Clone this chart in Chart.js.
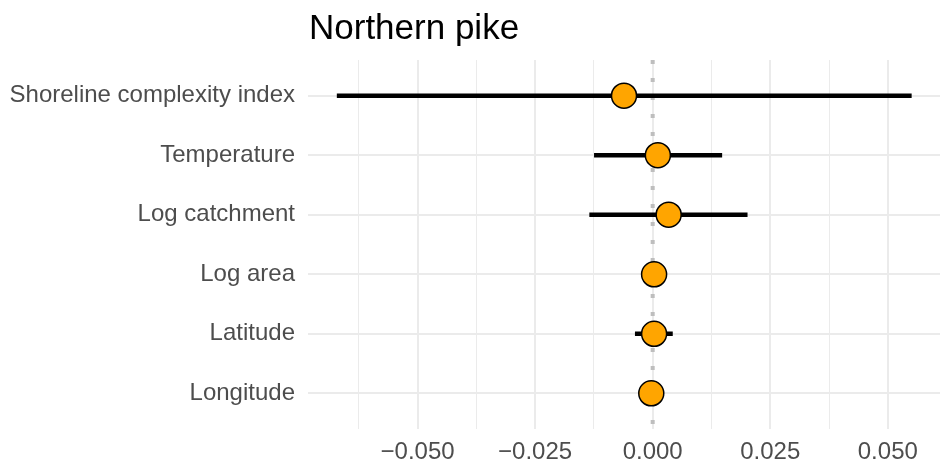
<!DOCTYPE html>
<html>
<head>
<meta charset="utf-8">
<script src="https://cdn.jsdelivr.net/npm/chart.js@4.4.1/dist/chart.umd.min.js"></script>
<style>
  html, body { margin: 0; padding: 0; background: #fff; overflow: hidden; }
  #wrap { width: 945px; height: 465px; position: relative; }
  canvas { display: block; }
</style>
</head>
<body>
<div id="wrap"><canvas id="forestChart"></canvas></div>
<script>
const chartTitle = 'Northern pike';
const predictors = ['Shoreline complexity index', 'Temperature', 'Log catchment', 'Log area', 'Latitude', 'Longitude'];
const estimates = [-0.0061, 0.0011, 0.0034, 0.0003, 0.0003, -0.0003];
const lower = [-0.0671, -0.0124, -0.0134, -0.0012, -0.0037, -0.0014];
const upper = [0.0550, 0.0147, 0.0201, 0.0018, 0.0042, 0.0008];
const majorTicks = [-0.05, -0.025, 0, 0.025, 0.05];
const minorTicks = [-0.0625, -0.0375, -0.0125, 0.0125, 0.0375];
const tickLabels = ['\u22120.050', '\u22120.025', '0.000', '0.025', '0.050'];

const FONT = "'Liberation Sans', Arial, sans-serif";
const GRID = '#ebebeb';

// dotted reference line at zero, under the bars and points
const zeroLine = {
  id: 'zeroLine',
  beforeDatasetsDraw(chart) {
    const { ctx, chartArea, scales: { x } } = chart;
    const px = x.getPixelForValue(0);
    ctx.save();
    ctx.strokeStyle = '#bebebe';
    ctx.lineWidth = 4;
    ctx.setLineDash([4, 14]);
    ctx.beginPath();
    ctx.moveTo(px, chartArea.top);
    ctx.lineTo(px, chartArea.bottom);
    ctx.stroke();
    ctx.restore();
  }
};

// title aligned with the panel's left edge
const panelTitle = {
  id: 'panelTitle',
  afterDraw(chart) {
    const { ctx, chartArea } = chart;
    ctx.save();
    ctx.fillStyle = '#000';
    ctx.font = '35px ' + FONT;
    ctx.textAlign = 'left';
    ctx.textBaseline = 'alphabetic';
    ctx.fillText(chartTitle, chartArea.left + 1, 38.5);
    ctx.restore();
  }
};

const ctx = document.getElementById('forestChart').getContext('2d');

new Chart(ctx, {
  type: 'scatter',
  data: {
    datasets: [
      {
        type: 'bar',
        indexAxis: 'y',
        data: predictors.map((p, i) => ({ x: [lower[i], upper[i]], y: i + 1 })),
        backgroundColor: '#000',
        borderWidth: 0,
        barThickness: 4,
        order: 2
      },
      {
        type: 'scatter',
        data: predictors.map((p, i) => ({ x: estimates[i], y: i + 1 })),
        pointRadius: 12.5,
        pointHoverRadius: 12.5,
        backgroundColor: '#FFA500',
        borderColor: '#000',
        borderWidth: 1.5,
        order: 1
      }
    ]
  },
  options: {
    responsive: true,
    maintainAspectRatio: false,
    animation: false,
    layout: { autoPadding: false, padding: { top: 60, right: 5, left: 0, bottom: 0 } },
    plugins: {
      legend: { display: false },
      tooltip: { enabled: false },
      title: { display: false }
    },
    scales: {
      x: {
        type: 'linear',
        min: -0.0733,
        max: 0.0611,
        afterBuildTicks: (scale) => {
          scale.ticks = majorTicks.concat(minorTicks).sort((a, b) => a - b).map(v => ({ value: v }));
        },
        afterFit: (scale) => {
          scale.height = 36;
          scale.paddingLeft = 0;
          scale.paddingRight = 0;
        },
        border: { display: false },
        grid: {
          drawTicks: false,
          color: GRID,
          lineWidth: (c) => majorTicks.includes(c.tick.value) ? 2 : 1
        },
        ticks: {
          autoSkip: false,
          maxRotation: 0,
          padding: 9,
          color: '#4d4d4d',
          font: { family: FONT, size: 24 },
          callback: (v) => {
            const k = majorTicks.indexOf(v);
            return k >= 0 ? tickLabels[k] : '';
          }
        }
      },
      y: {
        type: 'linear',
        reverse: true,
        offset: false,
        min: 0.4,
        max: predictors.length + 0.6,
        afterBuildTicks: (scale) => {
          scale.ticks = predictors.map((p, i) => ({ value: i + 1 }));
        },
        afterFit: (scale) => {
          scale.width = 308;
          scale.paddingTop = 0;
          scale.paddingBottom = 0;
        },
        border: { display: false },
        grid: { drawTicks: false, offset: false, color: GRID, lineWidth: 2 },
        ticks: {
          autoSkip: false,
          padding: 13,
          color: '#4d4d4d',
          font: { family: FONT, size: 24 },
          callback: (v) => predictors[v - 1]
        }
      }
    }
  },
  plugins: [zeroLine, panelTitle]
});
</script>
</body>
</html>
